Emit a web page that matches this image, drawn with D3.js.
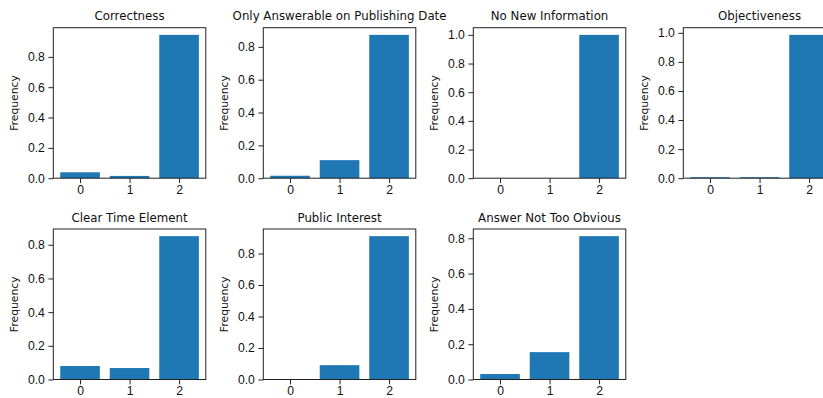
<!DOCTYPE html>
<html>
<head>
<meta charset="utf-8">
<script src="https://cdn.jsdelivr.net/npm/d3@7"></script>
<style>
  body { margin: 0; background: #fff; }
  svg { display: block; font-family: "DejaVu Sans", sans-serif; }
  .domain, .tick line { stroke: #222; }
  .tick text { fill: #111; font-size: 12.2px; }
</style>
</head>
<body>
<svg id="grid" width="823" height="398"></svg>
<script>
// values
const categories = [0, 1, 2];
const titles = ["Correctness", "Only Answerable on Publishing Date", "No New Information", "Objectiveness",
                "Clear Time Element", "Public Interest", "Answer Not Too Obvious"];
const correctness = [0.039, 0.015, 0.945];
const publishingDate = [0.015, 0.11, 0.873];
const noNewInfo = [0.0, 0.0, 1.0];
const objectiveness = [0.007, 0.007, 0.986];
const timeElement = [0.08, 0.068, 0.851];
const publicInterest = [0.0, 0.091, 0.91];
const notObvious = [0.031, 0.155, 0.812];
const yTickValues = [0, 0.2, 0.4, 0.6, 0.8, 1.0];

const panels = [correctness, publishingDate, noNewInfo, objectiveness, timeElement, publicInterest, notObvious];

const svg = d3.select('svg#grid');
const w = 152.5, h = 150.5;
const left0 = 53.3, top0 = 27.7, stepX = 210, stepY = 201.3;
const barColor = "#1f77b4";

panels.forEach((vals, k) => {
  const col = k % 4, row = Math.floor(k / 4);
  const g = svg.append('g')
    .attr('transform', `translate(${left0 + col * stepX},${top0 + row * stepY})`);

  // matplotlib style autoscale: bars +-0.4, 5% margins
  const xScale = d3.scaleLinear().domain([-0.54, 2.54]).range([0, w]);
  const ymax = d3.max(vals) * 1.05;
  const yScale = d3.scaleLinear().domain([0, ymax]).range([h, 0]);

  g.selectAll('rect')
    .data(vals)
    .enter()
    .append('rect')
    .attr('x', (d, i) => xScale(categories[i] - 0.4))
    .attr('width', xScale(0.4) - xScale(-0.4))
    .attr('y', d => yScale(d))
    .attr('height', d => h - yScale(d))
    .attr('fill', barColor);

  const xAxis = d3.axisBottom(xScale)
    .tickValues(categories)
    .tickFormat(d3.format("d"))
    .tickSizeOuter(0).tickSize(4.9).tickPadding(1.8);
  const yAxis = d3.axisLeft(yScale)
    .tickValues(yTickValues.filter(t => t <= ymax + 1e-9))
    .tickFormat(d3.format(".1f"))
    .tickSizeOuter(0).tickSize(4.9).tickPadding(3.5);

  g.append('g').attr('class', 'x-axis-g').attr('transform', `translate(0,${h})`).call(xAxis);
  g.append('g').attr('class', 'y-axis-g').call(yAxis);

  // frame
  g.append('rect')
    .attr('width', w).attr('height', h)
    .attr('fill', 'none').attr('stroke', '#222').attr('stroke-width', 1);

  g.select('.x-axis-g .domain').remove();
  g.select('.y-axis-g .domain').remove();

  g.append('text')
    .attr('x', w / 2).attr('y', -7.5)
    .attr('text-anchor', 'middle')
    .attr('font-size', '11.8px')
    .attr('fill', '#111')
    .text(titles[k]);

  g.append('text')
    .attr('transform', `translate(${18.3 - left0},${h / 2}) rotate(-90)`)
    .attr('text-anchor', 'middle')
    .attr('font-size', '10.8px')
    .attr('fill', '#111')
    .text("Frequency");
});
</script>
</body>
</html>
